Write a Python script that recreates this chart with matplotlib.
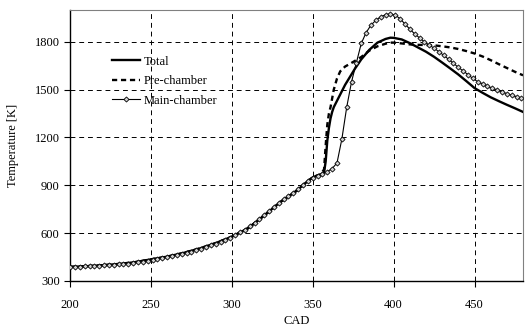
import numpy as np
import matplotlib.pyplot as plt

plt.rcParams['font.family'] = ['Liberation Serif', 'DejaVu Serif']

# Total / Pre-chamber
cad = [200, 210, 220, 230, 240, 250, 260, 270, 280, 290, 300, 310, 320, 330,
       340, 345, 350, 353, 355, 357, 358, 359, 360, 361, 362, 363, 365, 367,
       370, 373, 376, 380, 385, 390, 395, 398, 400, 405, 410, 415, 420, 425,
       430, 435, 440, 445, 450, 455, 460, 465, 470, 475, 480]
total = [388, 392, 398, 406, 417, 435, 452, 475, 503, 537, 577, 630, 710, 795,
         865, 910, 950, 962, 968, 980, 1050, 1180, 1260, 1320, 1360, 1390, 1430, 1470,
         1530, 1580, 1630, 1690, 1750, 1795, 1818, 1826, 1825, 1815, 1792, 1765, 1738, 1706,
         1670, 1633, 1595, 1553, 1510, 1480, 1452, 1428, 1405, 1383, 1360]
pre = [388, 392, 398, 406, 417, 435, 452, 475, 503, 537, 577, 630, 710, 795,
       865, 910, 950, 962, 968, 1000, 1150, 1280, 1350, 1390, 1445, 1500, 1570, 1615,
       1645, 1662, 1680, 1705, 1745, 1772, 1788, 1795, 1795, 1790, 1784, 1781, 1780, 1778,
       1772, 1765, 1755, 1742, 1727, 1708, 1685, 1660, 1636, 1612, 1590]

# Main-chamber (one point per marker, every 3 CAD from 200)
cad_main = list(range(200, 480, 3))
main = [388, 389, 390, 391, 392, 394, 396, 398, 400, 402, 404, 406, 409, 412, 416,
        420, 425, 431, 436, 441, 447, 454, 461, 468, 476, 484, 493, 502, 512, 525,
        533, 545, 557, 571, 587, 604, 622, 643, 665, 688, 713, 738, 763, 788, 811,
        833, 853, 875, 900, 925, 945, 960, 972, 985, 1005, 1040, 1190, 1390, 1550, 1670,
        1790, 1858, 1905, 1935, 1957, 1970, 1975, 1968, 1945, 1912, 1880, 1850, 1825, 1800, 1780,
        1760, 1738, 1715, 1690, 1665, 1640, 1617, 1594, 1570, 1550, 1535, 1520, 1508, 1497, 1485,
        1475, 1465, 1455, 1445]

fig = plt.figure(figsize=(5.31, 3.32), dpi=100)
ax = fig.add_axes([0.132, 0.154, 0.853, 0.816])

ax.plot(cad, total, color='black', lw=1.7, label='Total', zorder=3)
ax.plot(cad, pre, color='black', lw=1.7, ls=(0, (2.2, 1.6)), label='Pre-chamber', zorder=3)
ax.plot(cad_main, main, color='black', lw=0.8, marker='D', ms=2.6,
        mfc='#d0d0d0', mec='black', mew=0.6, label='Main-chamber', zorder=4)

ax.set_xlim(200, 480)
ax.set_ylim(300, 2000)
ax.set_xticks([200, 250, 300, 350, 400, 450])
ax.set_yticks([300, 600, 900, 1200, 1500, 1800])
ax.grid(True, color='black', ls=(0, (5, 4)), lw=0.7)
ax.tick_params(direction='out', length=4, width=0.8, labelsize=9, colors='black')
ax.tick_params(axis='x', pad=9)
for side in ['top', 'right']:
    ax.spines[side].set_color('#808080')
for side in ['left', 'bottom']:
    ax.spines[side].set_linewidth(1.0)

ax.set_xlabel('CAD', fontsize=9, labelpad=3)
ax.set_ylabel('Temperature [K]', fontsize=9, labelpad=11)

ax.legend(loc='upper left', bbox_to_anchor=(0.082, 0.85), frameon=False, fontsize=9,
          handlelength=2.2, handletextpad=0.3, labelspacing=0.6, borderaxespad=0)

fig.savefig('out.png', dpi=100)
